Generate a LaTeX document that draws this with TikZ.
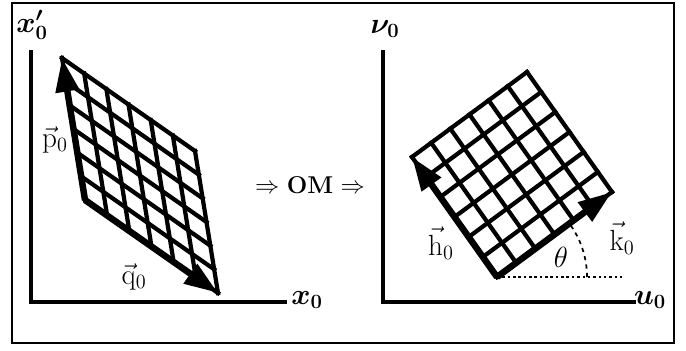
\documentclass[tikz,border=0pt]{standalone}
\usepackage{amsmath}
\usepackage{amssymb}
\usepackage{bm}
\usepackage{tikz}
\usetikzlibrary{arrows.meta, calc}
\tikzstyle{frame} = [draw=black, line width=2pt]
\tikzstyle{axis} = [draw=black, line width=2.2pt]
\tikzstyle{gridline} = [draw=black, line width=3pt, line cap=rect]
\tikzstyle{vecarrow} = [-{Triangle[length=24pt, width=16pt]}, line width=4.6pt]
\tikzstyle{axlabel} = [font=\huge]
\tikzstyle{veclabel} = [font=\huge]

\begin{document}
\begin{tikzpicture}[x=0.025cm, y=-0.025cm]
    \useasboundingbox (0,0) rectangle (686,350);
    % Frame
    \draw[frame] (12,3) rectangle (674,343);

    % Left axes
    \coordinate (lO) at (31,302);
    \coordinate (lY) at (31,50);
    \coordinate (lX) at (287,302);
    \draw[axis] (lY) -- (lO) -- (lX);
    \node[axlabel] (xpl) at (32,25) {$\bm{x'_0}$};
    \node[axlabel] (xl) at (307,300) {$\bm{x_0}$};

    % Left grid
    \coordinate (lBL) at (85,200);
    \coordinate (lTL) at (62,58);
    \coordinate (lBR) at (218,293);
    \coordinate (lTR) at (195,151);
    \foreach \t in {0,1,...,6} {
        \draw[gridline] ($(lBL)!\t/6!(lBR)$) -- ($(lTL)!\t/6!(lTR)$);
        \draw[gridline] ($(lBL)!\t/6!(lTL)$) -- ($(lBR)!\t/6!(lTR)$);
    }
    \draw[vecarrow] (lBL) -- (lTL);
    \draw[vecarrow] (lBL) -- (lBR);
    \node[veclabel] (pl) at (55,140) {$\vec{\mathrm{p}}_0$};
    \node[veclabel] (ql) at (134,277) {$\vec{\mathrm{q}}_0$};

    % Middle
    \node[font=\LARGE] (om) at (310,185) {$\Rightarrow$ \textbf{OM} $\Rightarrow$};

    % Right axes
    \coordinate (rO) at (383,302);
    \coordinate (rY) at (383,50);
    \coordinate (rX) at (636,302);
    \draw[axis] (rY) -- (rO) -- (rX);
    \node[axlabel] (vl) at (385,29) {$\bm{\nu_0}$};
    \node[axlabel] (ul) at (650,300) {$\bm{u_0}$};

    % Right grid
    \coordinate (rB) at (497,277);
    \coordinate (rL) at (412,157);
    \coordinate (rR) at (612,192);
    \coordinate (rT) at (527,72);
    \foreach \t in {0,1,...,6} {
        \draw[gridline] ($(rB)!\t/6!(rR)$) -- ($(rL)!\t/6!(rT)$);
        \draw[gridline] ($(rB)!\t/6!(rL)$) -- ($(rR)!\t/6!(rT)$);
    }
    \draw[vecarrow] (rB) -- (rL);
    \draw[vecarrow] (rB) -- (rR);
    \node[veclabel] (hl) at (441,243) {$\vec{\mathrm{h}}_0$};
    \node[veclabel] (kl) at (622,238) {$\vec{\mathrm{k}}_0$};

    % Angle
    \coordinate (rD) at (625,277);
    \draw[dotted, line width=1.8pt] (rB) -- (rD);
    \draw[dashed, line width=1.2pt] ($(rB)+(90,0)$) arc[start angle=0, end angle=-36.5, radius=90];
    \node[veclabel] (th) at (561,257) {$\theta$};
\end{tikzpicture}
\end{document}
